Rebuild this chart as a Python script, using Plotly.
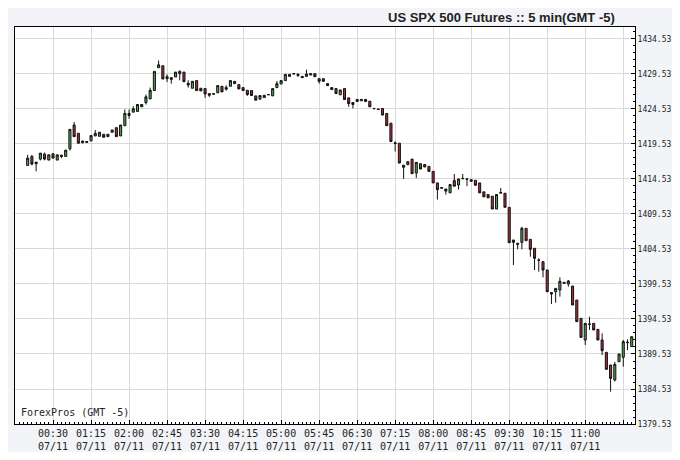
import pandas as pd
import plotly.graph_objects as go

# ---- data (5-minute bars, 07/11 from 00:00) ----
start_time = "2012-07-11 00:00"
bar_minutes = 5

open_ = [1416.47, 1417.75, 1416.94, 1417.37, 1418.08, 1417.23, 1418.13, 1417.23, 1417.94, 1417.75,
         1418.84, 1422.24, 1421.06, 1419.70, 1419.75, 1419.97, 1420.68, 1420.63, 1420.92, 1420.58,
         1421.20, 1421.86, 1420.68, 1422.14, 1423.61, 1424.08, 1424.18, 1424.84, 1425.45, 1425.97,
         1427.16, 1430.42, 1430.70, 1428.86, 1429.00, 1429.10, 1429.57, 1429.80, 1428.20, 1427.49,
         1428.58, 1427.49, 1427.44, 1426.73, 1426.64, 1426.83, 1427.77, 1427.35, 1427.77, 1428.15,
         1428.01, 1427.58, 1427.20, 1427.16, 1426.40, 1425.93, 1426.16, 1426.54, 1426.40, 1427.58,
         1428.10, 1428.58, 1429.19, 1429.52, 1429.52, 1429.19, 1429.19, 1429.38, 1429.57, 1428.86,
         1428.86, 1428.15, 1427.58, 1427.44, 1426.55, 1427.44, 1426.12, 1425.45, 1425.60, 1425.70,
         1425.60, 1425.64, 1424.55, 1424.45, 1424.60, 1423.89, 1422.50, 1419.70, 1419.64, 1416.50,
         1416.57, 1417.37, 1415.38, 1416.71, 1416.60, 1416.33, 1415.62, 1413.97, 1413.20, 1413.10,
         1412.55, 1414.30, 1413.68, 1414.55, 1414.55, 1414.43, 1414.34, 1413.97, 1412.69, 1412.31,
         1412.07, 1410.24, 1412.50, 1412.49, 1410.48, 1405.80, 1405.36, 1405.48, 1407.48, 1405.91,
         1404.63, 1402.95, 1402.72, 1401.53, 1398.30, 1398.43, 1398.67, 1399.77, 1399.53, 1399.24,
         1397.24, 1394.62, 1391.53, 1393.76, 1393.91, 1393.05, 1391.53, 1389.77, 1387.96, 1385.82,
         1388.43, 1389.05, 1391.15, 1390.58]
high = [1417.98, 1417.98, 1416.94, 1418.22, 1418.30, 1417.98, 1418.20, 1417.98, 1417.94, 1418.65,
        1421.62, 1422.67, 1421.06, 1419.97, 1419.88, 1420.73, 1421.53, 1421.20, 1420.92, 1420.92,
        1421.53, 1421.86, 1422.24, 1424.46, 1424.46, 1424.93, 1425.17, 1425.17, 1426.59, 1427.58,
        1429.90, 1431.46, 1430.70, 1429.47, 1429.00, 1429.80, 1430.04, 1429.80, 1428.62, 1428.48,
        1428.58, 1427.49, 1427.44, 1426.73, 1426.70, 1427.87, 1427.77, 1427.91, 1428.58, 1428.48,
        1428.01, 1427.58, 1427.20, 1427.16, 1426.40, 1426.45, 1426.49, 1426.60, 1427.44, 1428.53,
        1428.58, 1429.47, 1429.47, 1429.57, 1429.52, 1429.19, 1430.14, 1429.57, 1429.57, 1428.86,
        1428.86, 1428.15, 1427.58, 1427.44, 1427.25, 1427.49, 1426.12, 1425.45, 1425.90, 1425.90,
        1425.90, 1425.64, 1424.65, 1424.55, 1424.60, 1423.89, 1422.50, 1419.90, 1419.64, 1416.50,
        1417.00, 1417.37, 1416.90, 1416.71, 1416.60, 1416.33, 1415.62, 1413.97, 1413.30, 1413.10,
        1413.73, 1415.24, 1414.53, 1415.24, 1414.55, 1414.43, 1414.34, 1413.97, 1412.69, 1412.31,
        1412.07, 1412.31, 1413.24, 1412.49, 1410.48, 1405.85, 1405.36, 1407.70, 1407.48, 1405.91,
        1404.63, 1403.20, 1402.72, 1401.53, 1398.30, 1398.90, 1400.48, 1399.77, 1400.10, 1399.24,
        1397.24, 1394.62, 1393.91, 1394.86, 1393.91, 1393.05, 1392.48, 1389.77, 1387.96, 1388.40,
        1389.53, 1391.53, 1391.63, 1392.00]
low = [1416.47, 1416.47, 1415.62, 1417.18, 1417.20, 1417.23, 1417.51, 1417.23, 1417.51, 1417.75,
       1418.60, 1420.58, 1419.64, 1419.64, 1419.70, 1419.97, 1420.68, 1420.63, 1420.49, 1420.58,
       1421.20, 1420.58, 1420.68, 1422.14, 1423.14, 1424.08, 1424.18, 1424.84, 1425.17, 1425.97,
       1427.16, 1430.42, 1428.81, 1428.39, 1428.15, 1429.10, 1428.62, 1428.43, 1427.58, 1427.49,
       1427.16, 1427.11, 1426.12, 1426.25, 1426.64, 1426.83, 1426.97, 1427.16, 1427.77, 1428.15,
       1427.39, 1427.16, 1426.40, 1426.45, 1425.79, 1425.93, 1426.16, 1426.54, 1426.40, 1427.58,
       1428.10, 1428.58, 1429.19, 1429.52, 1429.10, 1429.00, 1429.19, 1429.38, 1429.14, 1428.15,
       1428.48, 1427.87, 1427.30, 1426.73, 1426.55, 1425.88, 1424.84, 1424.60, 1425.60, 1425.70,
       1425.60, 1424.84, 1424.55, 1424.45, 1423.66, 1422.14, 1419.88, 1418.46, 1416.80, 1414.53,
       1416.57, 1415.29, 1414.67, 1415.95, 1416.24, 1415.62, 1413.97, 1411.60, 1413.20, 1412.30,
       1412.55, 1413.50, 1413.02, 1414.55, 1413.50, 1414.20, 1413.63, 1412.55, 1411.98, 1411.84,
       1410.24, 1410.24, 1412.50, 1410.49, 1405.43, 1402.24, 1404.48, 1404.48, 1405.72, 1403.43,
       1401.53, 1401.29, 1400.48, 1398.43, 1396.67, 1396.86, 1397.72, 1399.63, 1399.15, 1396.53,
       1394.15, 1391.91, 1390.82, 1392.96, 1392.96, 1391.53, 1389.39, 1387.34, 1384.15, 1385.60,
       1388.43, 1387.72, 1390.10, 1390.58]
close = [1417.51, 1416.66, 1416.71, 1418.22, 1417.37, 1417.98, 1417.51, 1417.98, 1417.75, 1418.65,
         1421.62, 1420.58, 1419.64, 1419.95, 1419.88, 1420.73, 1421.06, 1421.20, 1420.49, 1420.92,
         1421.53, 1420.58, 1422.24, 1423.89, 1423.89, 1424.56, 1425.17, 1425.17, 1426.26, 1427.20,
         1429.90, 1430.84, 1428.81, 1429.14, 1428.76, 1429.80, 1429.90, 1428.43, 1427.96, 1428.48,
         1427.16, 1427.11, 1426.68, 1426.49, 1426.70, 1427.87, 1426.97, 1427.58, 1428.58, 1428.48,
         1427.39, 1427.16, 1426.59, 1426.45, 1425.79, 1426.45, 1426.49, 1426.60, 1427.44, 1428.15,
         1428.58, 1429.47, 1429.47, 1429.57, 1429.33, 1429.00, 1429.52, 1429.57, 1429.14, 1428.48,
         1428.48, 1427.87, 1427.30, 1426.73, 1427.25, 1425.88, 1425.31, 1425.17, 1425.90, 1425.90,
         1425.90, 1424.84, 1424.60, 1424.50, 1423.66, 1422.14, 1419.88, 1419.60, 1416.80, 1416.20,
         1417.00, 1415.29, 1416.90, 1415.95, 1416.24, 1415.62, 1413.97, 1413.02, 1413.30, 1412.80,
         1413.73, 1413.50, 1414.53, 1414.60, 1414.50, 1414.20, 1413.63, 1412.55, 1411.98, 1411.84,
         1410.24, 1412.31, 1412.60, 1410.49, 1405.43, 1405.48, 1405.20, 1407.48, 1405.72, 1404.48,
         1403.20, 1402.93, 1401.53, 1398.43, 1398.10, 1398.90, 1399.91, 1399.63, 1399.96, 1396.53,
         1394.15, 1391.91, 1393.91, 1393.80, 1392.96, 1391.53, 1390.00, 1387.34, 1386.05, 1388.05,
         1389.53, 1391.29, 1391.20, 1392.00]

tick_times = ["00:30", "01:15", "02:00", "02:45", "03:30", "04:15", "05:00", "05:45",
              "06:30", "07:15", "08:00", "08:45", "09:30", "10:15", "11:00", "11:45"]
tick_date = "07/11"
label_times = tick_times[:-1]  # last gridline has no label in the reference
y_ticks = [1379.53, 1384.53, 1389.53, 1394.53, 1399.53, 1404.53, 1409.53,
           1414.53, 1419.53, 1424.53, 1429.53, 1434.53]

times = pd.date_range(start_time, periods=len(open_), freq=f"{bar_minutes}min")
tickvals = [pd.Timestamp("2012-07-11 " + t) for t in tick_times]
ticktext = [f"{t}<br>{tick_date}" if t in label_times else "" for t in tick_times]

fig = go.Figure()
fig.add_trace(go.Candlestick(
    x=times, open=open_, high=high, low=low, close=close,
    increasing=dict(fillcolor="#4fa54f", line=dict(color="#111111", width=1)),
    decreasing=dict(fillcolor="#a8303a", line=dict(color="#111111", width=1)),
    whiskerwidth=0, showlegend=False, hoverinfo="x+y",
))

mono = "DejaVu Sans Mono"
# the page body adds an 8px offset; keep the figure inside the window
fig.update_layout(
    width=672, height=444,
    margin=dict(l=7, r=45, t=19, b=28, autoexpand=False),
    paper_bgcolor="#f3f4f8", plot_bgcolor="#ffffff",
    showlegend=False,
    xaxis=dict(
        type="date", automargin=False,
        range=[pd.Timestamp("2012-07-10 23:45"), pd.Timestamp("2012-07-11 11:58:54")],
        rangeslider=dict(visible=False),
        tickvals=tickvals, ticktext=ticktext,
        showgrid=True, gridcolor="#d9d9d9", gridwidth=1,
        showline=True, linecolor="#000000", linewidth=1, mirror=True,
        ticks="inside", ticklen=4, tickcolor="#000000",
        minor=dict(dtick=bar_minutes * 60 * 1000, ticks="inside", ticklen=2,
                   tickcolor="#000000", showgrid=False),
        tickfont=dict(family=mono, size=10, color="#222222"),
        zeroline=False,
    ),
    yaxis=dict(
        side="right", automargin=False,
        range=[1379.53, 1436.24],
        tickvals=y_ticks, ticktext=[f"{v:.2f}" for v in y_ticks],
        showgrid=True, gridcolor="#d9d9d9", gridwidth=1,
        showline=True, linecolor="#000000", linewidth=1, mirror=True,
        ticks="inside", ticklen=4, tickcolor="#000000",
        minor=dict(dtick=1, tick0=1379.53, ticks="inside", ticklen=2,
                   tickcolor="#000000", showgrid=False),
        tickfont=dict(family=mono, size=8, color="#222222"),
        zeroline=False,
    ),
    annotations=[
        dict(text="<b>US SPX 500 Futures :: 5 min(GMT -5)</b>", xref="paper", yref="paper",
             x=0.971, y=1.0, xanchor="right", yanchor="bottom", showarrow=False,
             font=dict(family="Liberation Sans", size=13, color="#222222")),
        dict(text="ForexPros (GMT -5)", xref="paper", yref="paper",
             x=0.006, y=0.01, xanchor="left", yanchor="bottom", showarrow=False,
             font=dict(family=mono, size=10, color="#222222")),
    ],
)

fig.write_html("out.html")
